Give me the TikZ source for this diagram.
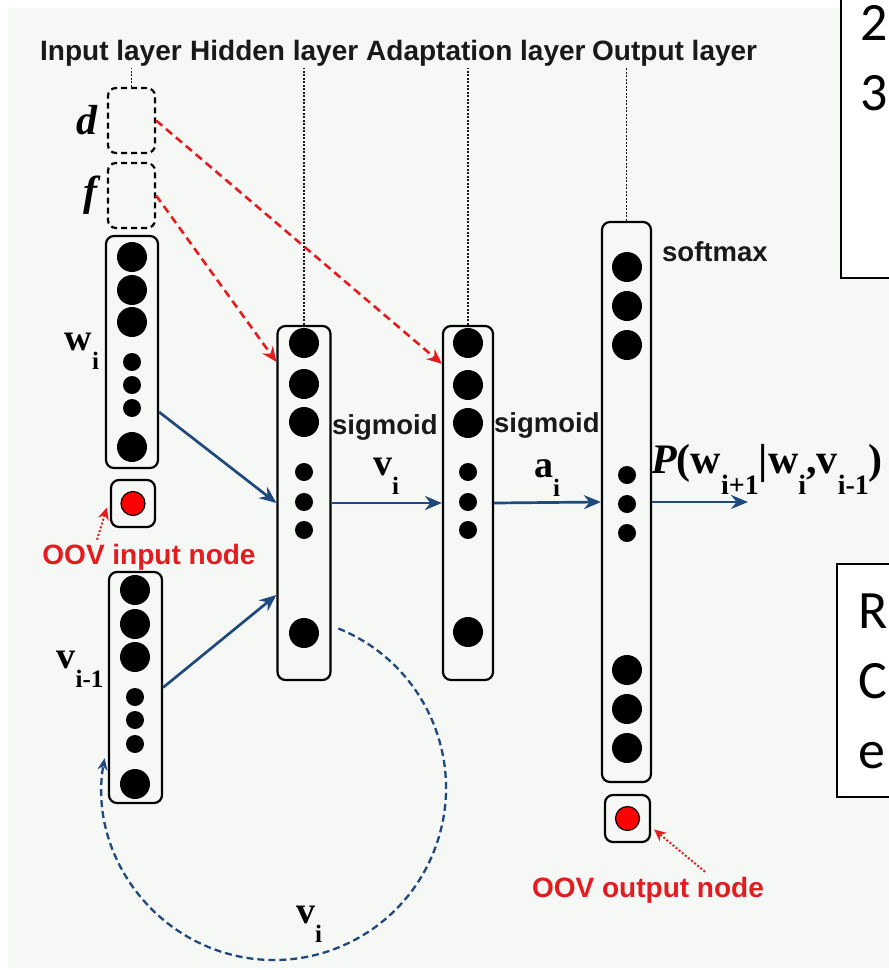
\documentclass[tikz,border=0pt]{standalone}
\usepackage{fontspec}
\setsansfont{Liberation Sans}
\newfontfamily\tmsfont{Liberation Serif}
\newfontfamily\carlfont{Carlito}
\usepackage{tikz}
\usetikzlibrary{arrows.meta,positioning,calc}
\definecolor{NNblue}{RGB}{31,73,125}
\definecolor{NNred}{RGB}{228,28,32}
\definecolor{NNback}{RGB}{246,248,246}
\newcommand{\lowsub}[2][25]{\raisebox{-0.5em}{\fontsize{#1}{#1}\selectfont #2}}

\begin{document}
\begin{tikzpicture}[x=1pt,y=-1pt,
    layer/.style={draw,line width=2.2pt,rounded corners=8pt,inner sep=0pt},
    extra/.style={layer,dash pattern=on 6pt off 4pt},
    big/.style={circle,fill=black,minimum size=30pt,inner sep=0pt},
    small/.style={circle,fill=black,minimum size=18pt,inner sep=0pt},
    oovdot/.style={circle,fill=red,draw=black,line width=1.2pt,minimum size=24pt,inner sep=0pt},
    arr/.style={-{Stealth[length=17pt,width=14pt]},line width=2.7pt,NNblue},
    redarr/.style={-{Stealth[length=15pt,width=13pt]},line width=2.6pt,NNred,dash pattern=on 8pt off 5pt},
    pointer/.style={-{Stealth[length=12pt,width=11pt]},line width=2pt,NNred,dash pattern=on 2pt off 2pt},
    guide/.style={line width=1.8pt,black!90,dash pattern=on 2pt off 1.5pt},
    loopback/.style={-{Stealth[length=12pt,width=10pt]},line width=2.3pt,NNblue,dash pattern=on 7pt off 4pt},
    title/.style={font=\sffamily\bfseries\fontsize{28}{28}\selectfont,text=black!90,inner sep=0pt},
    actlbl/.style={font=\sffamily\bfseries\fontsize{27.5}{27.5}\selectfont,text=black!90,inner sep=0pt},
    oovlbl/.style={font=\sffamily\bfseries\fontsize{28}{28}\selectfont,text=NNred,inner sep=0pt},
    mathlbl/.style={font=\tmsfont\fontsize{38}{38}\selectfont,inner sep=0pt},
    notebox/.style={draw,line width=1.5pt,fill=white,inner sep=0pt},
    notetext/.style={font=\carlfont\fontsize{54}{70}\selectfont,inner sep=0pt,align=left}
  ]
  % canvas
  \useasboundingbox (0,0) rectangle (889,970);
  \fill[white] (0,0) rectangle (889,970);
  \fill[NNback] (8,8) rectangle (889,968);

  % layer titles
  \node[title,anchor=base west] (tin) at (40,60) {Input layer};
  \node[title,anchor=base west] (thid) at (190,60) {Hidden layer};
  \node[title,anchor=base west] (tadp) at (366,60) {Adaptation layer};
  \node[title,anchor=base west] (tout) at (592,60) {Output layer};
  \coordinate (ttop) at (0,68);

  % input layer
  \node[extra,minimum width=47pt,minimum height=65pt] (dbox) at (131.5,120.5) {};
  \node[extra,minimum width=47pt,minimum height=65pt] (fbox) at (131.5,195.5) {};
  \node[layer,minimum width=52pt,minimum height=232pt] (wbox) at (132,352) {};
  \node[layer,minimum width=44pt,minimum height=47pt] (oovin) at (133,503.5) {};
  \node[layer,minimum width=53pt,minimum height=231pt] (vbox) at (135.5,687.5) {};
  \foreach \y [count=\k] in {257,290,322,447} \node[big] (wb\k) at (132,\y) {};
  \foreach \y [count=\k] in {362,385,408} \node[small] (ws\k) at (132,\y) {};
  \foreach \y [count=\k] in {590,624,657,784} \node[big] (vb\k) at (135,\y) {};
  \foreach \y [count=\k] in {697,720,744} \node[small] (vs\k) at (135,\y) {};
  \node[oovdot] (oovindot) at (oovin) {};

  % hidden, adaptation and output layers
  \node[layer,minimum width=53pt,minimum height=354pt] (hid) at (304,503) {};
  \node[layer,minimum width=50pt,minimum height=354pt] (adp) at (468,503) {};
  \node[layer,minimum width=49pt,minimum height=560pt] (out) at (626.5,502) {};
  \node[layer,minimum width=45pt,minimum height=47pt] (oovout) at (627.5,818.5) {};
  \foreach \y [count=\k] in {343,384,422,633} \node[big] (hb\k) at (304,\y) {};
  \foreach \y [count=\k] in {472,502,530} \node[small] (hs\k) at (304,\y) {};
  \foreach \y [count=\k] in {343,385,423,632} \node[big] (ab\k) at (468,\y) {};
  \foreach \y [count=\k] in {472,502,530} \node[small] (as\k) at (468,\y) {};
  \foreach \y [count=\k] in {267,306,345,670,709,748} \node[big] (ob\k) at (627,\y) {};
  \foreach \y [count=\k] in {475,504,533} \node[small] (os\k) at (627,\y) {};
  \node[oovdot] (oovoutdot) at (oovout) {};

  % guides from the titles
  \foreach \n in {dbox,hid,adp,out} \draw[guide] (\n.north) -- (\n.north |- ttop);

  % labels
  \node[mathlbl,font=\tmsfont\fontsize{42}{42}\selectfont,left=9pt of dbox] (dlbl) {\bfseries\itshape d};
  \node[mathlbl,font=\tmsfont\fontsize{42}{42}\selectfont,left=9pt of fbox] (flbl) {\bfseries\itshape f};
  \node[mathlbl,anchor=base] (wlbl) at (82,350) {\bfseries w\lowsub{i}};
  \node[mathlbl,anchor=base] (vprevlbl) at (80,668) {\bfseries v\lowsub{i-1}};
  \node[mathlbl,anchor=base] (vilbl) at (386,475) {\bfseries v\lowsub{i}};
  \node[mathlbl,anchor=base] (ailbl) at (547,477) {\bfseries a\lowsub{i}};
  \node[mathlbl,anchor=base] (vlooplbl) at (309,923) {\bfseries v\lowsub{i}};
  \node[mathlbl,font=\tmsfont\fontsize{42}{42}\selectfont,anchor=base west] (plbl) at (651,473)
    {{\bfseries\itshape P}\bfseries(w\lowsub[28]{i+1}|w\lowsub[28]{i},v\lowsub[28]{i-1})};
  \node[actlbl,anchor=west] (sig1) at (332,427) {sigmoid};
  \node[actlbl,anchor=west] (sig2) at (494,425) {sigmoid};
  \node[actlbl,anchor=west] (smax) at (662,252) {softmax};
  \node[oovlbl] (oovinlbl) at (149,557) {OOV input node};
  \node[oovlbl] (oovoutlbl) at (648,890) {OOV output node};

  % connections
  \draw[arr] ([yshift=-60pt]wbox.east) -- (hid.west);
  \draw[arr] (vbox.east) -- ([yshift=-92pt]hid.west);
  \draw[arr] (hid.east) -- (adp.west);
  \draw[arr] (adp.east) -- (out.west);
  \coordinate (pend) at (748,502);
  \draw[arr] (out.east) -- (pend);
  \draw[redarr] (dbox.east) -- ([yshift=-39pt]adp.north west);
  \draw[redarr] (fbox.east) -- ([yshift=-37pt]hid.north west);
  \draw[pointer] ([xshift=-52pt,yshift=4pt]oovinlbl.north) -- ([xshift=-3pt,yshift=-4pt]oovin.west);
  \draw[pointer] ([xshift=57pt,yshift=5pt]oovoutlbl.north) -- ([xshift=3pt,yshift=-11pt]oovout.east);
  \coordinate (loopc) at (274,788);
  \draw[loopback] ($(loopc)+(-68:172)$) arc[start angle=-68,end angle=190,radius=172];

  % slide text boxes on the right
  \node[notebox,anchor=north west,minimum width=70pt,minimum height=290pt] (note1) at (840,-13) {};
  \node[notetext,anchor=base west] (note1txt) at (860,110) {2\\3};
  \node[notebox,anchor=north west,minimum width=70pt,minimum height=233pt] (note2) at (836,563) {};
  \node[notetext,anchor=base west] (note2txt) at (858,768) {R\\C\\e};
\end{tikzpicture}
\end{document}
